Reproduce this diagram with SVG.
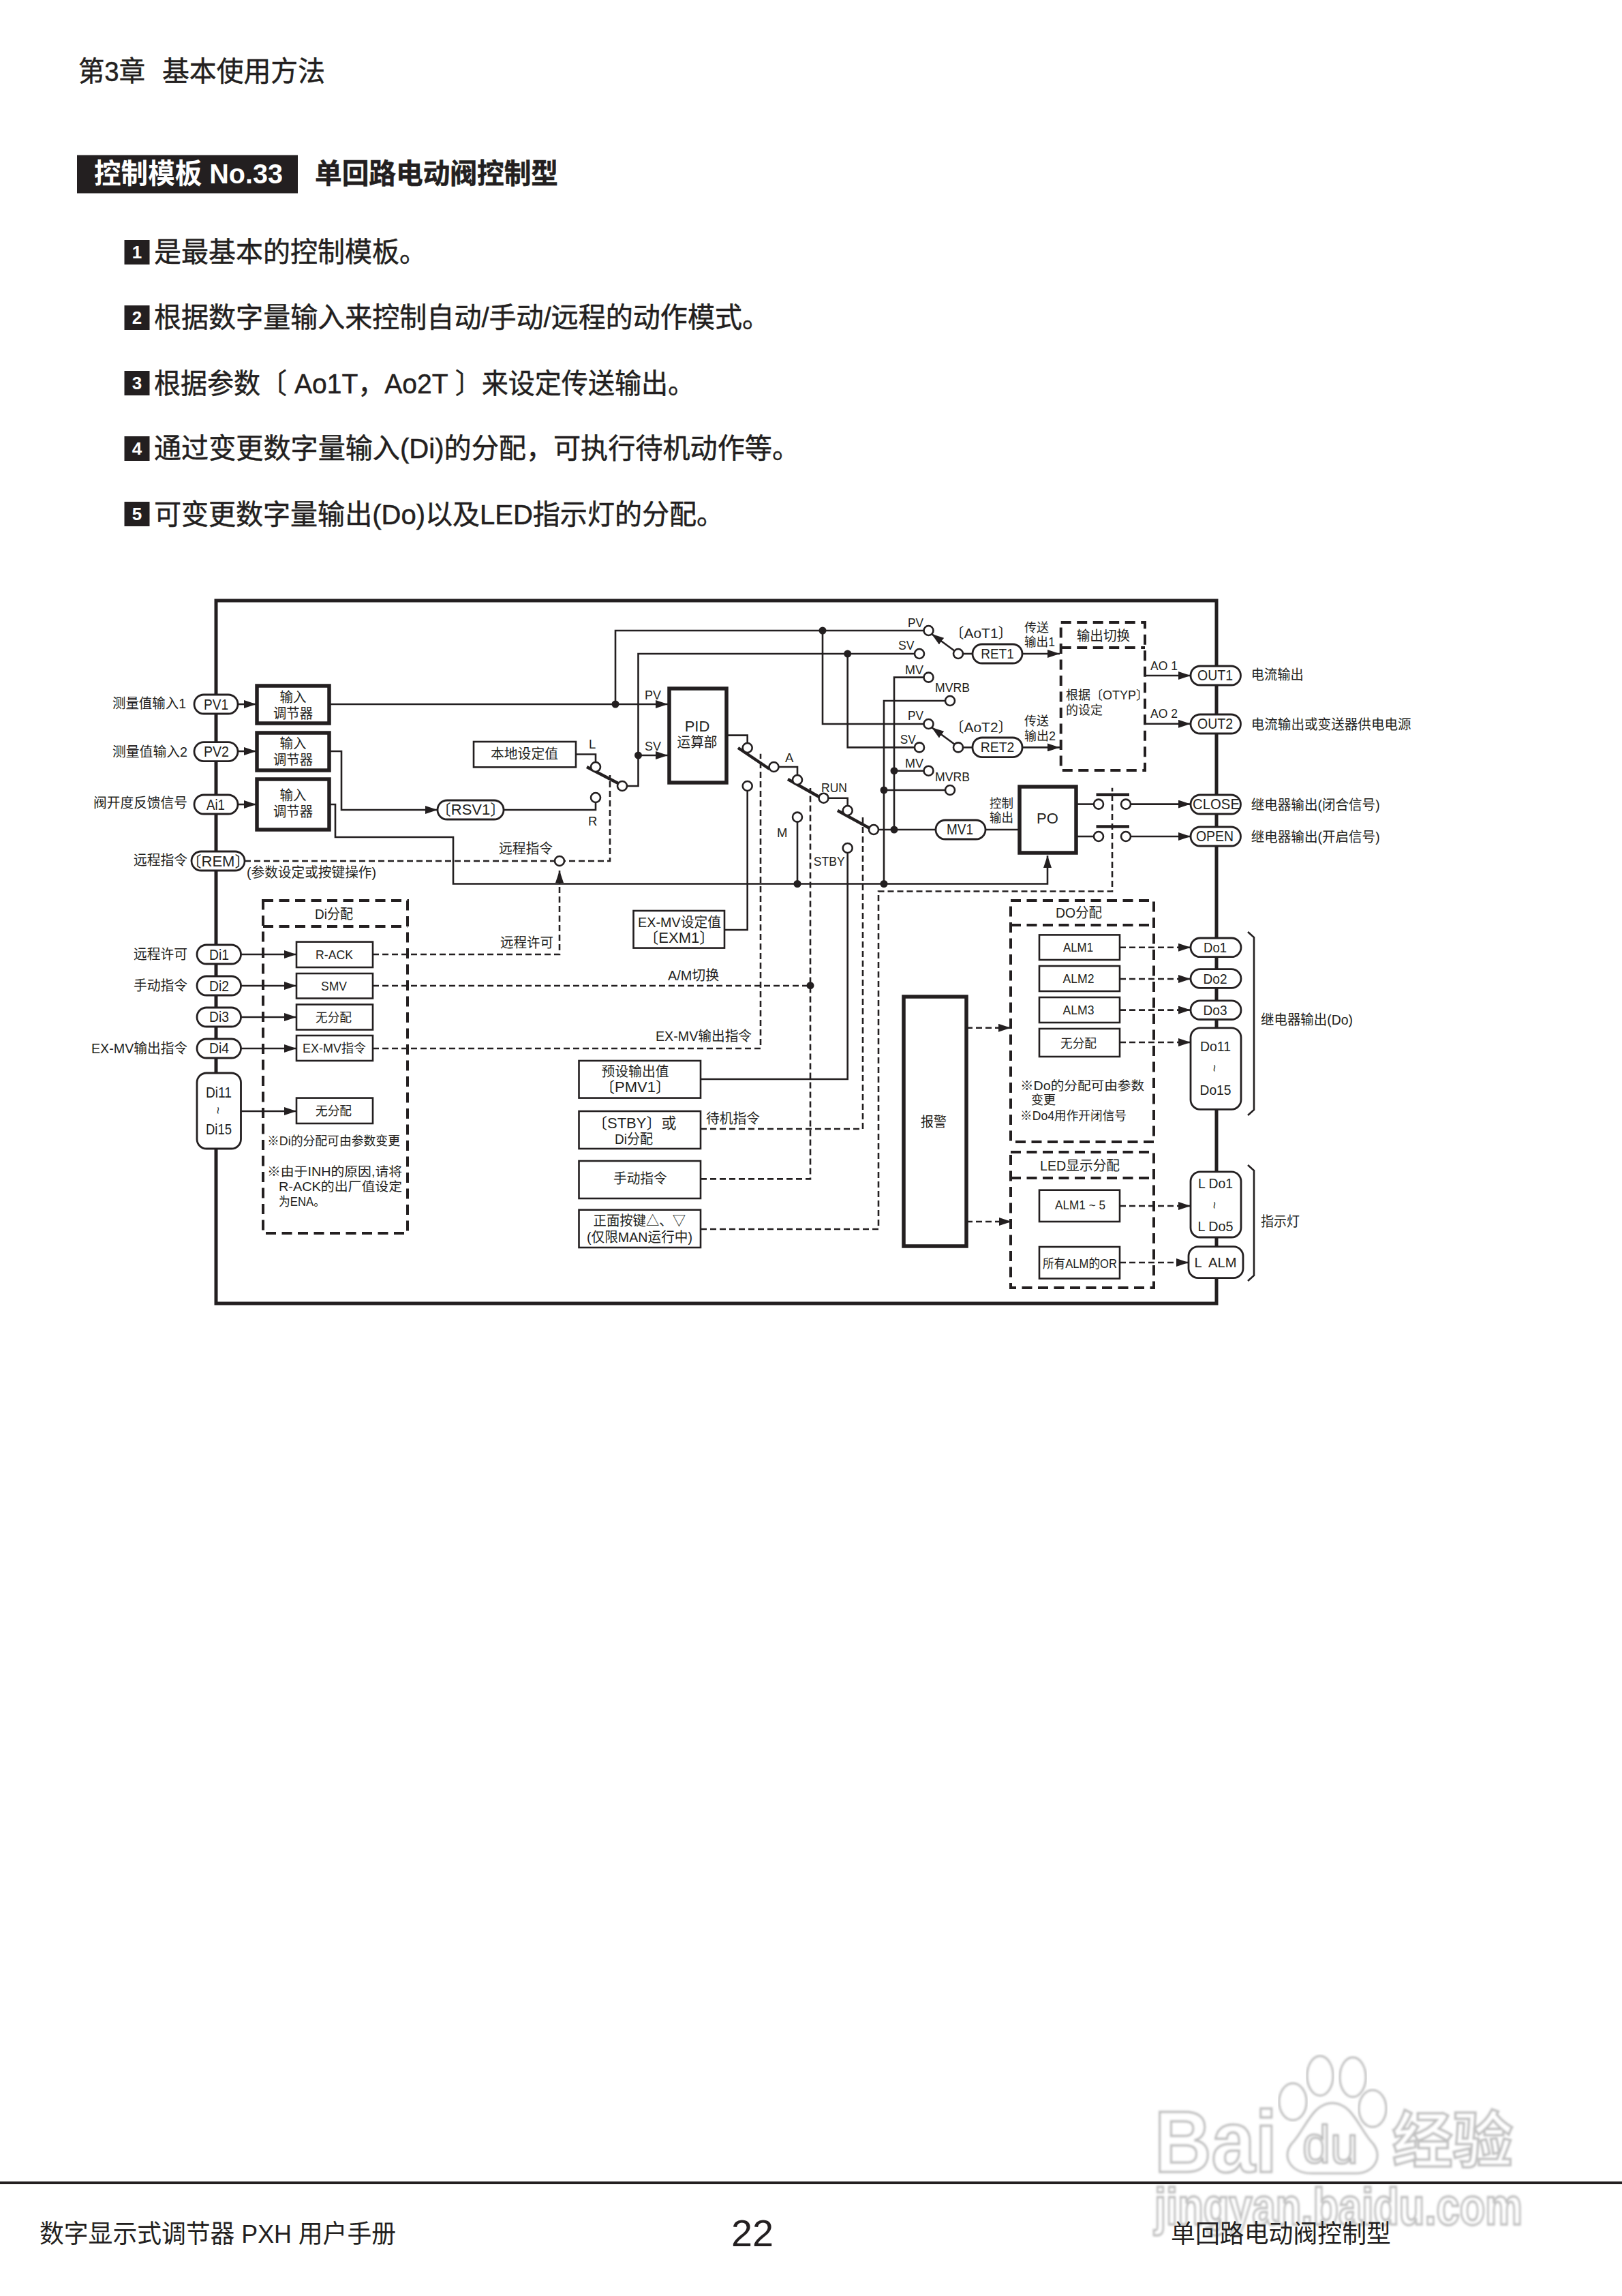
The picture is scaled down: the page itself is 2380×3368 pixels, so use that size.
<svg xmlns="http://www.w3.org/2000/svg" width="2380" height="3368" viewBox="0 0 2380 3368">
<style>
text{font-family:"Liberation Sans","Noto Sans CJK SC",sans-serif;fill:#231f20;dominant-baseline:central}
.s{font-size:18.5px}.m{font-size:20.5px}.l{font-size:22px}.h{font-size:41px;stroke:#231f20;stroke-width:.5}
.c{text-anchor:middle}.b{font-weight:bold}.w{fill:#fff;stroke:none}
.ln{fill:none;stroke:#231f20;stroke-width:2.6}
.da{fill:none;stroke:#231f20;stroke-width:2.6;stroke-dasharray:9 5}
.bd{fill:none;stroke:#231f20;stroke-width:4;stroke-dasharray:15 8.5}
.box{fill:#fff;stroke:#231f20;stroke-width:2.6}
.hv{fill:#fff;stroke:#231f20;stroke-width:5.5}
.pill{fill:#fff;stroke:#231f20;stroke-width:2.8}
.o{fill:#fff;stroke:#231f20;stroke-width:2.6}
.dot{fill:#231f20}
.bar{fill:none;stroke:#231f20;stroke-width:4.5}
.wm{fill:#fff;stroke:#bcbcbc;stroke-width:3;filter:url(#blur)}
.wmt{fill:#fff;stroke:#c0c0c0;stroke-width:3.5;filter:url(#blur);font-weight:bold}
</style>
<defs>
<marker id="a" markerUnits="userSpaceOnUse" viewBox="0 0 18 12" refX="18" refY="6" markerWidth="18" markerHeight="12" orient="auto"><path d="M0 0L18 6L0 12Z" fill="#231f20"/></marker>
<filter id="blur" x="-5%" y="-5%" width="110%" height="110%"><feGaussianBlur stdDeviation="1.5"/></filter>
</defs>
<rect width="2380" height="3368" fill="#fff"/>

<g id="watermark">
<ellipse class="wm" cx="1937" cy="3045" rx="19" ry="29"/>
<ellipse class="wm" cx="1985" cy="3047" rx="19" ry="29"/>
<ellipse class="wm" cx="1897" cy="3083" rx="20" ry="27"/>
<ellipse class="wm" cx="2014" cy="3093" rx="20" ry="27"/>
<path class="wm" d="M1955 3085C1985 3085 1995 3125 2015 3145C2030 3165 2015 3188 1990 3188L1925 3188C1895 3188 1880 3165 1895 3145C1915 3125 1925 3085 1955 3085Z"/>
<text class="wmt" x="1694" y="3141" font-size="128" textLength="180" lengthAdjust="spacingAndGlyphs">Bai</text>
<text x="1911" y="3146" font-size="78" textLength="82" lengthAdjust="spacingAndGlyphs" style="fill:#f2f2f2;stroke:#b4b4b4;stroke-width:2.5;filter:url(#blur)">du</text>
<text class="wmt" x="2043" y="3140" font-size="89" textLength="177" lengthAdjust="spacingAndGlyphs">经验</text>
<text class="wmt" x="1694" y="3236" font-size="76" textLength="540" lengthAdjust="spacingAndGlyphs">jingyan.baidu.com</text>
</g>

<g id="page-header">
<text class="h" x="115" y="105" textLength="98" lengthAdjust="spacingAndGlyphs">第3章</text>
<text class="h" x="238" y="105" textLength="239" lengthAdjust="spacingAndGlyphs">基本使用方法</text>
<rect x="113" y="227.5" width="324" height="56" fill="#231f20"/>
<text class="h b w" x="138" y="255" textLength="277" lengthAdjust="spacingAndGlyphs">控制模板 No.33</text>
<text class="h b" x="462" y="255" textLength="357" lengthAdjust="spacingAndGlyphs">单回路电动阀控制型</text>
</g>
<g id="points">
<rect class="dot" x="182.5" y="352" width="37" height="36"/><text class="c b w" x="201" y="370" font-size="26">1</text>
<text class="h" x="226" y="370" textLength="400" lengthAdjust="spacingAndGlyphs">是最基本的控制模板。</text>
<rect class="dot" x="182.5" y="448" width="37" height="36"/><text class="c b w" x="201" y="466" font-size="26">2</text>
<text class="h" x="226" y="466" textLength="903" lengthAdjust="spacingAndGlyphs">根据数字量输入来控制自动/手动/远程的动作模式。</text>
<rect class="dot" x="182.5" y="544" width="37" height="36"/><text class="c b w" x="201" y="562" font-size="26">3</text>
<text class="h" x="226" y="563" textLength="793" lengthAdjust="spacingAndGlyphs">根据参数〔 Ao1T，Ao2T 〕来设定传送输出。</text>
<rect class="dot" x="182.5" y="640" width="37" height="36"/><text class="c b w" x="201" y="658" font-size="26">4</text>
<text class="h" x="226" y="658" textLength="947" lengthAdjust="spacingAndGlyphs">通过变更数字量输入(Di)的分配，可执行待机动作等。</text>
<rect class="dot" x="182.5" y="736" width="37" height="36"/><text class="c b w" x="201" y="754" font-size="26">5</text>
<text class="h" x="226" y="755" textLength="836" lengthAdjust="spacingAndGlyphs">可变更数字量输出(Do)以及LED指示灯的分配。</text>
</g>

<rect id="frame" x="317" y="881" width="1468" height="1031" fill="none" stroke="#231f20" stroke-width="5"/>

<g id="connectors">
<path class="ln" d="M349 1033H376" marker-end="url(#a)"/>
<path class="ln" d="M349 1102H376" marker-end="url(#a)"/>
<path class="ln" d="M349 1180H376" marker-end="url(#a)"/>
<path class="ln" d="M483 1033H980" marker-end="url(#a)"/>
<path class="ln" d="M483 1102H501V1188H642" marker-end="url(#a)"/>
<path class="ln" d="M483 1180H492V1228H665V1296.5H1537V1255" marker-end="url(#a)"/>
<path class="ln" d="M845 1106.5H874V1118"/>
<path class="ln" d="M739 1188H874V1177"/>
<path class="ln" d="M920 1153H936.5V959H1342"/>
<path class="ln" d="M936.5 1108H980" marker-end="url(#a)"/>
<path class="ln" d="M903 1033V925H1355.5"/>
<path class="ln" d="M1207 925V1062H1355.5"/>
<path class="ln" d="M1243.7 959V1096.4H1342"/>
<path class="ln" d="M1065.6 1078.6H1096.7V1090"/>
<path class="ln" d="M1142.5 1125H1170V1137"/>
<path class="ln" d="M1215.5 1170.7H1243.7V1182"/>
<path class="ln" d="M1096.7 1160V1364H1064"/>
<path class="ln" d="M1170 1205.6V1296.5"/>
<path class="ln" d="M1243.7 1251V1583H1028"/>
<path class="ln" d="M1297 1296.5V1028H1387"/>
<path class="ln" d="M1297 1159H1387"/>
<path class="ln" d="M1312 1217V993.6H1355.5"/>
<path class="ln" d="M1312 1130.7H1355.5"/>
<path class="ln" d="M1289 1217H1495.7"/>
<path class="ln" d="M1413 959H1427"/>
<path class="ln" d="M1413 1096.4H1427"/>
<path class="ln" d="M1500 959H1555" marker-end="url(#a)"/>
<path class="ln" d="M1500 1096.4H1555" marker-end="url(#a)"/>
<path class="ln" d="M1401 955L1367 930" marker-end="url(#a)"/>
<path class="ln" d="M1401 1092L1367 1067" marker-end="url(#a)"/>
<path class="ln" d="M1680 991H1747" marker-end="url(#a)"/>
<path class="ln" d="M1680 1061.8H1747" marker-end="url(#a)"/>
<path class="ln" d="M1579 1179.6H1605"/><path class="ln" d="M1659 1179.6H1747" marker-end="url(#a)"/>
<path class="ln" d="M1579 1227H1605"/><path class="ln" d="M1659 1227H1747" marker-end="url(#a)"/>
<path class="ln" d="M353.5 1400H435" marker-end="url(#a)"/>
<path class="ln" d="M353.5 1446H435" marker-end="url(#a)"/>
<path class="ln" d="M353.5 1492H435" marker-end="url(#a)"/>
<path class="ln" d="M353.5 1538H435" marker-end="url(#a)"/>
<path class="ln" d="M353.5 1630H435" marker-end="url(#a)"/>
<path class="da" d="M359 1263H895V1137"/>
<path class="da" d="M547 1400H821V1290"/>
<path class="ln" d="M821 1290V1277" marker-end="url(#a)"/>
<path class="da" d="M547 1446H1189"/>
<path class="da" d="M547 1538H1116V1105.7"/>
<path class="da" d="M1028 1656H1266V1195"/>
<path class="da" d="M1028 1729.4H1189V1156"/>
<path class="da" d="M1028 1803H1289V1307.5H1632V1155.7"/>
<path class="da" d="M1418 1507.8H1465"/><path class="ln" d="M1465 1507.8H1483" marker-end="url(#a)"/>
<path class="da" d="M1418 1792H1466"/><path class="ln" d="M1466 1792H1484" marker-end="url(#a)"/>
<path class="da" d="M1643 1389.8H1729"/><path class="ln" d="M1729 1389.8H1747" marker-end="url(#a)"/>
<path class="da" d="M1643 1436H1729"/><path class="ln" d="M1729 1436H1747" marker-end="url(#a)"/>
<path class="da" d="M1643 1481.6H1729"/><path class="ln" d="M1729 1481.6H1747" marker-end="url(#a)"/>
<path class="da" d="M1643 1529H1729"/><path class="ln" d="M1729 1529H1747" marker-end="url(#a)"/>
<path class="da" d="M1643 1769H1729"/><path class="ln" d="M1729 1769H1747" marker-end="url(#a)"/>
<path class="da" d="M1643 1852H1726"/><path class="ln" d="M1726 1852H1744" marker-end="url(#a)"/>
<path class="bar" d="M861 1125L907 1149"/>
<path class="bar" d="M1083 1097L1129 1128"/>
<path class="bar" d="M1156 1143L1202 1169"/>
<path class="bar" d="M1229 1189L1276 1215"/>
<path class="bar" d="M1608.5 1165.7H1657"/>
<path class="bar" d="M1608.5 1212.5H1657"/>
<path class="ln" d="M1831 1367L1840 1375V1628L1831 1636"/>
<path class="ln" d="M1831 1709L1840 1717V1871L1831 1879"/>
<circle class="dot" cx="903" cy="1033" r="5.5"/>
<circle class="dot" cx="936.5" cy="1108" r="5.5"/>
<circle class="dot" cx="1207" cy="925" r="5.5"/>
<circle class="dot" cx="1243.7" cy="959" r="5.5"/>
<circle class="dot" cx="1312" cy="1130.7" r="5.5"/>
<circle class="dot" cx="1297" cy="1159" r="5.5"/>
<circle class="dot" cx="1312" cy="1217" r="5.5"/>
<circle class="dot" cx="1170" cy="1296.5" r="5.5"/>
<circle class="dot" cx="1297" cy="1296.5" r="5.5"/>
<circle class="dot" cx="1189" cy="1445.7" r="5.5"/>
<circle class="o" cx="874" cy="1125" r="7"/><circle class="o" cx="874" cy="1170" r="7"/><circle class="o" cx="913" cy="1153" r="7"/>
<circle class="o" cx="821" cy="1263" r="7"/>
<circle class="o" cx="1096.7" cy="1097" r="7"/><circle class="o" cx="1096.7" cy="1153" r="7"/><circle class="o" cx="1135.5" cy="1125" r="7"/>
<circle class="o" cx="1170" cy="1144" r="7"/><circle class="o" cx="1170" cy="1198.6" r="7"/><circle class="o" cx="1208.5" cy="1170.7" r="7"/>
<circle class="o" cx="1243.7" cy="1189" r="7"/><circle class="o" cx="1243.7" cy="1244" r="7"/><circle class="o" cx="1282" cy="1217" r="7"/>
<circle class="o" cx="1362.5" cy="925" r="7"/><circle class="o" cx="1349" cy="959" r="7"/><circle class="o" cx="1362.5" cy="993.6" r="7"/><circle class="o" cx="1394" cy="1028" r="7"/><circle class="o" cx="1406" cy="959" r="7"/>
<circle class="o" cx="1362.5" cy="1062" r="7"/><circle class="o" cx="1349" cy="1096.4" r="7"/><circle class="o" cx="1362.5" cy="1130.7" r="7"/><circle class="o" cx="1394" cy="1159" r="7"/><circle class="o" cx="1406" cy="1096.4" r="7"/>
<circle class="o" cx="1612" cy="1179.6" r="7"/><circle class="o" cx="1652" cy="1179.6" r="7"/><circle class="o" cx="1612" cy="1227" r="7"/><circle class="o" cx="1652" cy="1227" r="7"/>
</g>

<g id="signal-labels">
<text class="m" x="165" y="1031" textLength="108" lengthAdjust="spacingAndGlyphs">测量值输入1</text>
<text class="m" x="165" y="1102" textLength="110" lengthAdjust="spacingAndGlyphs">测量值输入2</text>
<text class="m" x="137" y="1177" textLength="138" lengthAdjust="spacingAndGlyphs">阀开度反馈信号</text>
<text class="m" x="196" y="1261" textLength="79" lengthAdjust="spacingAndGlyphs">远程指令</text>
<text class="m" x="362" y="1279" textLength="190" lengthAdjust="spacingAndGlyphs">(参数设定或按键操作)</text>
<text class="m" x="196" y="1399" textLength="79" lengthAdjust="spacingAndGlyphs">远程许可</text>
<text class="m" x="196" y="1445" textLength="79" lengthAdjust="spacingAndGlyphs">手动指令</text>
<text class="m" x="134" y="1537" textLength="141" lengthAdjust="spacingAndGlyphs">EX-MV输出指令</text>
<text class="m" x="732" y="1244" textLength="79" lengthAdjust="spacingAndGlyphs">远程指令</text>
<text class="m" x="734" y="1382" textLength="78" lengthAdjust="spacingAndGlyphs">远程许可</text>
<text class="m" x="980" y="1430.6" textLength="75" lengthAdjust="spacingAndGlyphs">A/M切换</text>
<text class="m" x="962" y="1519.6" textLength="141" lengthAdjust="spacingAndGlyphs">EX-MV输出指令</text>
<text class="m" x="1036" y="1640" textLength="79" lengthAdjust="spacingAndGlyphs">待机指令</text>
<text class="s" x="864" y="1091">L</text><text class="s" x="863" y="1204">R</text>
<text class="s" x="946" y="1019.6" textLength="24" lengthAdjust="spacingAndGlyphs">PV</text>
<text class="s" x="946" y="1094" textLength="24" lengthAdjust="spacingAndGlyphs">SV</text>
<text class="s" x="1152" y="1111">A</text>
<text class="s" x="1205" y="1155.7" textLength="38" lengthAdjust="spacingAndGlyphs">RUN</text>
<text class="s" x="1140" y="1221">M</text>
<text class="s" x="1193.7" y="1263.6" textLength="46" lengthAdjust="spacingAndGlyphs">STBY</text>
<text class="s" x="1332" y="913" textLength="23" lengthAdjust="spacingAndGlyphs">PV</text>
<text class="s" x="1318" y="946.4" textLength="23.6" lengthAdjust="spacingAndGlyphs">SV</text>
<text class="s" x="1328" y="982" textLength="27" lengthAdjust="spacingAndGlyphs">MV</text>
<text class="s" x="1372" y="1008" textLength="51" lengthAdjust="spacingAndGlyphs">MVRB</text>
<text class="s" x="1332" y="1049" textLength="23" lengthAdjust="spacingAndGlyphs">PV</text>
<text class="s" x="1320.7" y="1084" textLength="23" lengthAdjust="spacingAndGlyphs">SV</text>
<text class="s" x="1328" y="1119" textLength="27" lengthAdjust="spacingAndGlyphs">MV</text>
<text class="s" x="1372" y="1139.6" textLength="51" lengthAdjust="spacingAndGlyphs">MVRB</text>
<text class="m c" x="1439.5" y="928" font-size="21" style="font-size:21px">〔AoT1〕</text>
<text class="m c" x="1439.5" y="1066" style="font-size:21px">〔AoT2〕</text>
<text class="s" x="1503" y="920" textLength="36" lengthAdjust="spacingAndGlyphs">传送</text>
<text class="s" x="1503" y="941.4" textLength="45" lengthAdjust="spacingAndGlyphs">输出1</text>
<text class="s" x="1503" y="1057.5" textLength="36" lengthAdjust="spacingAndGlyphs">传送</text>
<text class="s" x="1503" y="1079.6" textLength="46" lengthAdjust="spacingAndGlyphs">输出2</text>
<text class="s" x="1452" y="1178" textLength="35" lengthAdjust="spacingAndGlyphs">控制</text>
<text class="s" x="1452" y="1199" textLength="35" lengthAdjust="spacingAndGlyphs">输出</text>
<text class="s" x="1688" y="976" textLength="40" lengthAdjust="spacingAndGlyphs">AO 1</text>
<text class="s" x="1688" y="1046.4" textLength="40" lengthAdjust="spacingAndGlyphs">AO 2</text>
<text class="m" x="1835.7" y="989" textLength="77" lengthAdjust="spacingAndGlyphs">电流输出</text>
<text class="m" x="1835.7" y="1062" textLength="235" lengthAdjust="spacingAndGlyphs">电流输出或变送器供电电源</text>
<text class="m" x="1835.7" y="1180.7" textLength="189" lengthAdjust="spacingAndGlyphs">继电器输出(闭合信号)</text>
<text class="m" x="1835.7" y="1227" textLength="189" lengthAdjust="spacingAndGlyphs">继电器输出(开启信号)</text>
<text class="m" x="1850" y="1495" textLength="135" lengthAdjust="spacingAndGlyphs">继电器输出(Do)</text>
<text class="m" x="1850" y="1791" textLength="57" lengthAdjust="spacingAndGlyphs">指示灯</text>
</g>

<g id="terminal-PV1"><rect class="pill" x="285" y="1019" width="64" height="28" rx="14"/><text class="l c" x="317" y="1033" textLength="36" lengthAdjust="spacingAndGlyphs">PV1</text></g>
<g id="terminal-PV2"><rect class="pill" x="285" y="1088.6" width="64" height="28" rx="14"/><text class="l c" x="317.5" y="1102.5" textLength="37" lengthAdjust="spacingAndGlyphs">PV2</text></g>
<g id="terminal-Ai1"><rect class="pill" x="285" y="1166" width="64" height="28" rx="14"/><text class="l c" x="316.5" y="1180" textLength="27" lengthAdjust="spacingAndGlyphs">Ai1</text></g>
<g id="terminal-REM"><rect class="pill" x="281" y="1249" width="78" height="28" rx="14"/><text class="l c" x="320" y="1263">〔REM〕</text></g>
<g id="terminal-Di1"><rect class="pill" x="289" y="1386" width="64.5" height="28" rx="14"/><text class="l c" x="321.5" y="1400" textLength="29" lengthAdjust="spacingAndGlyphs">Di1</text></g>
<g id="terminal-Di2"><rect class="pill" x="289" y="1432" width="64.5" height="28" rx="14"/><text class="l c" x="321.5" y="1446" textLength="29" lengthAdjust="spacingAndGlyphs">Di2</text></g>
<g id="terminal-Di3"><rect class="pill" x="289" y="1478" width="64.5" height="28" rx="14"/><text class="l c" x="321.5" y="1491" textLength="29" lengthAdjust="spacingAndGlyphs">Di3</text></g>
<g id="terminal-Di4"><rect class="pill" x="289" y="1524" width="64.5" height="28" rx="14"/><text class="l c" x="321.5" y="1537" textLength="29" lengthAdjust="spacingAndGlyphs">Di4</text></g>
<g id="terminal-Di11"><rect class="pill" x="289" y="1574" width="64.5" height="111" rx="14"/><text class="l c" x="321" y="1602" textLength="38" lengthAdjust="spacingAndGlyphs">Di11</text><text class="s c" x="320" y="1629" transform="rotate(90 320 1629)">~</text><text class="l c" x="321" y="1656" textLength="38" lengthAdjust="spacingAndGlyphs">Di15</text></g>

<g id="input-1"><rect class="hv" x="377" y="1006" width="106" height="55"/><text class="m c" x="430" y="1022" textLength="39" lengthAdjust="spacingAndGlyphs">输入</text><text class="m c" x="430" y="1046" textLength="58" lengthAdjust="spacingAndGlyphs">调节器</text></g>
<g id="input-2"><rect class="hv" x="377" y="1075" width="106" height="55"/><text class="m c" x="430" y="1090" textLength="39" lengthAdjust="spacingAndGlyphs">输入</text><text class="m c" x="430" y="1114" textLength="58" lengthAdjust="spacingAndGlyphs">调节器</text></g>
<g id="input-3"><rect class="hv" x="377" y="1143" width="106" height="74"/><text class="m c" x="430" y="1166" textLength="39" lengthAdjust="spacingAndGlyphs">输入</text><text class="m c" x="430" y="1190" textLength="58" lengthAdjust="spacingAndGlyphs">调节器</text></g>

<g id="local-sv"><rect class="box" x="695" y="1088" width="150" height="37.4"/><text class="m c" x="769.5" y="1105.7" textLength="99" lengthAdjust="spacingAndGlyphs">本地设定值</text></g>
<g id="rsv1"><rect class="pill" x="642" y="1174" width="97" height="28" rx="14"/><text class="l c" x="690.5" y="1187">〔RSV1〕</text></g>
<g id="pid"><rect class="hv" x="982" y="1010" width="84" height="138"/><text class="l c" x="1023" y="1065">PID</text><text class="m c" x="1023" y="1088.6" textLength="59" lengthAdjust="spacingAndGlyphs">运算部</text></g>
<g id="ret1"><rect class="pill" x="1427" y="945" width="73" height="28" rx="14"/><text class="m c" x="1463.5" y="958" textLength="48.6" lengthAdjust="spacingAndGlyphs">RET1</text></g>
<g id="ret2"><rect class="pill" x="1427" y="1082" width="73" height="28.7" rx="14"/><text class="m c" x="1463.5" y="1095.4" textLength="49.6" lengthAdjust="spacingAndGlyphs">RET2</text></g>
<g id="mv1"><rect class="pill" x="1373" y="1203" width="73" height="28" rx="14"/><text class="l c" x="1408.5" y="1216" textLength="39" lengthAdjust="spacingAndGlyphs">MV1</text></g>
<g id="po"><rect class="hv" x="1496" y="1154" width="83" height="97"/><text class="l c" x="1537" y="1200.7">PO</text></g>

<g id="output-switch"><path class="bd" d="M1556.7 913H1680V1130H1556.7Z"/><path class="bd" d="M1556.7 950H1680"/><text class="m c" x="1619" y="932" textLength="78.5" lengthAdjust="spacingAndGlyphs">输出切换</text><text x="1564" y="1020" style="font-size:18px">根据〔OTYP〕</text><text class="s" x="1564" y="1041" textLength="54" lengthAdjust="spacingAndGlyphs">的设定</text></g>
<g id="terminal-OUT1"><rect class="pill" x="1747" y="977" width="73.5" height="28" rx="14"/><text class="l c" x="1783" y="990.5" textLength="52" lengthAdjust="spacingAndGlyphs">OUT1</text></g>
<g id="terminal-OUT2"><rect class="pill" x="1747" y="1048" width="73.5" height="28" rx="14"/><text class="l c" x="1783" y="1061.5" textLength="52" lengthAdjust="spacingAndGlyphs">OUT2</text></g>
<g id="terminal-CLOSE"><rect class="pill" x="1747" y="1166" width="73.5" height="28" rx="14"/><text class="l c" x="1784.5" y="1179.5" textLength="69" lengthAdjust="spacingAndGlyphs">CLOSE</text></g>
<g id="terminal-OPEN"><rect class="pill" x="1747" y="1213" width="73.5" height="28" rx="14"/><text class="l c" x="1782.5" y="1226.5" textLength="55" lengthAdjust="spacingAndGlyphs">OPEN</text></g>

<g id="di-assign"><path class="bd" d="M386 1321H598V1809H386Z"/><path class="bd" d="M386 1359H598"/><text class="m c" x="490" y="1340" textLength="56" lengthAdjust="spacingAndGlyphs">Di分配</text>
<text class="s" x="392" y="1673.5" textLength="195" lengthAdjust="spacingAndGlyphs">※Di的分配可由参数变更</text>
<text class="s" x="392" y="1718" textLength="198" lengthAdjust="spacingAndGlyphs">※由于INH的原因,请将</text>
<text class="s" x="409" y="1740" textLength="181" lengthAdjust="spacingAndGlyphs">R-ACK的出厂值设定</text>
<text class="s" x="409" y="1762" textLength="68" lengthAdjust="spacingAndGlyphs">为ENA。</text></g>
<g id="di-r-ack"><rect class="box" x="435" y="1381.6" width="112" height="37.4"/><text class="s c" x="490.5" y="1400" textLength="55" lengthAdjust="spacingAndGlyphs">R-ACK</text></g>
<g id="di-smv"><rect class="box" x="435" y="1428" width="112" height="36.5"/><text class="s c" x="490" y="1446" textLength="38" lengthAdjust="spacingAndGlyphs">SMV</text></g>
<g id="di-none-1"><rect class="box" x="435" y="1473.5" width="112" height="37"/><text class="s c" x="489.5" y="1492" textLength="53" lengthAdjust="spacingAndGlyphs">无分配</text></g>
<g id="di-exmv"><rect class="box" x="435" y="1519" width="112" height="37"/><text class="s c" x="490.5" y="1537.5" textLength="93" lengthAdjust="spacingAndGlyphs">EX-MV指令</text></g>
<g id="di-none-2"><rect class="box" x="435" y="1610.6" width="112" height="37.4"/><text class="s c" x="489.5" y="1629" textLength="53" lengthAdjust="spacingAndGlyphs">无分配</text></g>

<g id="exm1"><rect class="box" x="929.5" y="1336" width="133.5" height="54.6"/><text class="m c" x="997" y="1352" textLength="122" lengthAdjust="spacingAndGlyphs">EX-MV设定值</text><text class="l c" x="996.3" y="1375.5">〔EXM1〕</text></g>
<g id="pmv1"><rect class="box" x="849.5" y="1556" width="178.5" height="54.6"/><text class="m c" x="932" y="1571.4" textLength="99" lengthAdjust="spacingAndGlyphs">预设输出值</text><text class="l c" x="932" y="1594.7">〔PMV1〕</text></g>
<g id="stby"><rect class="box" x="849.5" y="1630" width="178.5" height="55"/><text class="l" x="869" y="1647">〔STBY〕或</text><text class="m c" x="930" y="1670" textLength="56" lengthAdjust="spacingAndGlyphs">Di分配</text></g>
<g id="manual"><rect class="box" x="849.5" y="1703" width="178.5" height="55"/><text class="m c" x="939.3" y="1728.6" textLength="78.6" lengthAdjust="spacingAndGlyphs">手动指令</text></g>
<g id="front-keys"><rect class="box" x="849.5" y="1774.7" width="178.5" height="55.3"/><text class="m c" x="938.3" y="1790" textLength="135.5" lengthAdjust="spacingAndGlyphs">正面按键△、▽</text><text class="m c" x="938.5" y="1814" textLength="155" lengthAdjust="spacingAndGlyphs">(仅限MAN运行中)</text></g>
<g id="alarm"><rect class="hv" x="1326" y="1462" width="92" height="366"/><text class="m c" x="1370" y="1645" textLength="38" lengthAdjust="spacingAndGlyphs">报警</text></g>

<g id="do-assign"><path class="bd" d="M1483 1321H1693V1675H1483Z"/><path class="bd" d="M1483 1357H1693"/><text class="m c" x="1583" y="1338" textLength="68" lengthAdjust="spacingAndGlyphs">DO分配</text>
<text class="s" x="1497" y="1592" textLength="182" lengthAdjust="spacingAndGlyphs">※Do的分配可由参数</text>
<text class="s" x="1513" y="1613.5" textLength="36" lengthAdjust="spacingAndGlyphs">变更</text>
<text class="s" x="1497" y="1636" textLength="156" lengthAdjust="spacingAndGlyphs">※Do4用作开闭信号</text></g>
<g id="do-alm1"><rect class="box" x="1525" y="1371.4" width="118" height="36.6"/><text class="s c" x="1582" y="1389.5" textLength="44" lengthAdjust="spacingAndGlyphs">ALM1</text></g>
<g id="do-alm2"><rect class="box" x="1525" y="1417" width="118" height="37"/><text class="s c" x="1582.5" y="1435.5" textLength="46" lengthAdjust="spacingAndGlyphs">ALM2</text></g>
<g id="do-alm3"><rect class="box" x="1525" y="1463" width="118" height="37"/><text class="s c" x="1582.5" y="1481.5" textLength="46" lengthAdjust="spacingAndGlyphs">ALM3</text></g>
<g id="do-none"><rect class="box" x="1525" y="1509" width="118" height="41"/><text class="s c" x="1582.5" y="1530" textLength="53" lengthAdjust="spacingAndGlyphs">无分配</text></g>

<g id="led-assign"><path class="bd" d="M1483 1690H1693V1889H1483Z"/><path class="bd" d="M1483 1728H1693"/><text class="m c" x="1584.5" y="1709" textLength="117" lengthAdjust="spacingAndGlyphs">LED显示分配</text></g>
<g id="led-alm"><rect class="box" x="1525" y="1745.7" width="118" height="46.3"/><text class="s c" x="1585" y="1767" textLength="74" lengthAdjust="spacingAndGlyphs">ALM1 ~ 5</text></g>
<g id="led-or"><rect class="box" x="1525" y="1829" width="118" height="46.5"/><text class="s c" x="1584.5" y="1853" textLength="109" lengthAdjust="spacingAndGlyphs">所有ALM的OR</text></g>

<g id="terminal-Do1"><rect class="pill" x="1747" y="1376" width="74" height="27.7" rx="14"/><text class="m c" x="1783" y="1389" textLength="34" lengthAdjust="spacingAndGlyphs">Do1</text></g>
<g id="terminal-Do2"><rect class="pill" x="1747" y="1421.6" width="74" height="27.7" rx="14"/><text class="m c" x="1783" y="1435" textLength="35" lengthAdjust="spacingAndGlyphs">Do2</text></g>
<g id="terminal-Do3"><rect class="pill" x="1747" y="1467.8" width="74" height="27.7" rx="14"/><text class="m c" x="1783" y="1481" textLength="35" lengthAdjust="spacingAndGlyphs">Do3</text></g>
<g id="terminal-Do11"><rect class="pill" x="1747" y="1507.8" width="74" height="119.5" rx="14"/><text class="m c" x="1783.5" y="1534.7" textLength="45" lengthAdjust="spacingAndGlyphs">Do11</text><text class="s c" x="1782" y="1567" transform="rotate(90 1782 1567)">~</text><text class="m c" x="1783.5" y="1598" textLength="46" lengthAdjust="spacingAndGlyphs">Do15</text></g>
<g id="terminal-LDo"><rect class="pill" x="1747" y="1718.8" width="74" height="96.2" rx="14"/><text class="m c" x="1783.5" y="1735" textLength="51" lengthAdjust="spacingAndGlyphs">L Do1</text><text class="s c" x="1782" y="1768" transform="rotate(90 1782 1768)">~</text><text class="m c" x="1783.5" y="1798" textLength="52" lengthAdjust="spacingAndGlyphs">L Do5</text></g>
<g id="terminal-LALM"><rect class="pill" x="1744" y="1828.6" width="80" height="46.1" rx="14"/><text class="m c" x="1783.5" y="1851" textLength="62" lengthAdjust="spacingAndGlyphs" style="white-space:pre">L  ALM</text></g>

<g id="page-footer">
<rect class="dot" x="0" y="3200" width="2380" height="4"/>
<text x="58" y="3277" font-size="37" textLength="523" lengthAdjust="spacingAndGlyphs">数字显示式调节器 PXH 用户手册</text>
<text class="c" x="1104" y="3275" font-size="56" textLength="62" lengthAdjust="spacingAndGlyphs">22</text>
<text x="1718" y="3277" font-size="37" textLength="323" lengthAdjust="spacingAndGlyphs">单回路电动阀控制型</text>
</g>
</svg>
